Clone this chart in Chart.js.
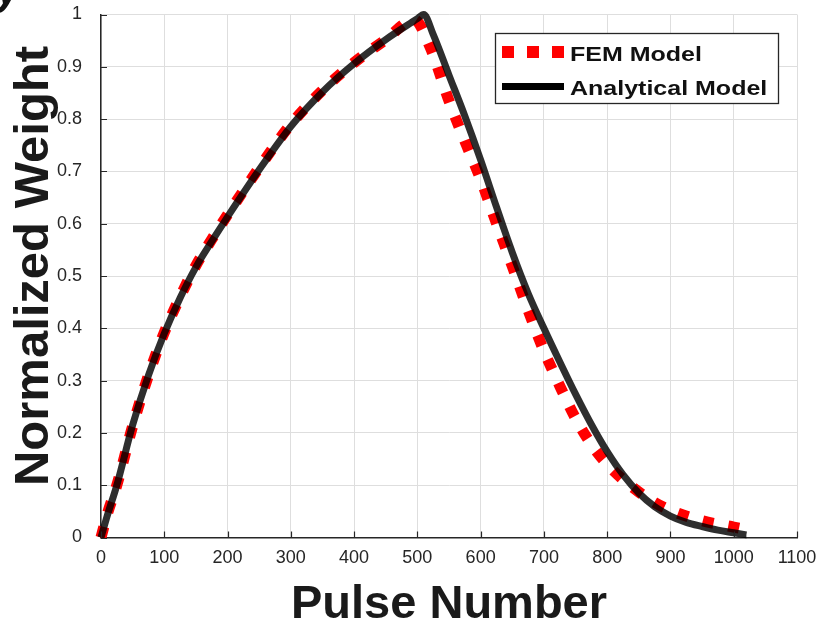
<!DOCTYPE html>
<html><head><meta charset="utf-8">
<script src="https://cdn.jsdelivr.net/npm/chart.js@4/dist/chart.umd.min.js"></script>
<style>
html,body{margin:0;padding:0;background:#fff;overflow:hidden;}
#wrap{position:relative;width:824px;height:630px;}
#frag{position:absolute;left:-4px;top:-36px;line-height:44px;font:bold italic 44px "Liberation Sans",Arial,sans-serif;color:#111;}
</style></head><body>
<div id="wrap"><canvas id="c" width="824" height="630"></canvas><div id="frag">y</div></div>
<script>
// ---- data ----
const seriesNames = ['FEM Model', 'Analytical Model'];
const pulseFEM = [0,10,25,50,75,100,125,150,175,200,250,300,350,400,450,495,520,550,575,600,625,650,675,700,725,750,775,800,825,850,875,900,950,1000,1020];
const weightFEM = [0,0.045,0.1,0.213,0.31,0.392,0.46,0.52,0.57,0.617,0.707,0.79,0.855,0.908,0.952,0.99,0.938,0.835,0.758,0.685,0.601,0.519,0.435,0.357,0.29,0.228,0.178,0.14,0.111,0.087,0.067,0.052,0.032,0.02,0.015];
const pulseAnalytical = [0,10,25,50,75,100,125,150,175,200,250,300,350,400,450,500,510,525,550,575,600,625,650,675,700,725,750,775,800,825,850,875,900,925,950,975,1000,1020];
const weightAnalytical = [0,0.042,0.1,0.215,0.31,0.39,0.458,0.517,0.566,0.613,0.703,0.786,0.852,0.906,0.952,0.992,1.0,0.962,0.884,0.806,0.722,0.632,0.545,0.467,0.4,0.336,0.274,0.216,0.164,0.12,0.085,0.059,0.041,0.029,0.021,0.014,0.009,0.005];
const xTicks = [0,100,200,300,400,500,600,700,800,900,1000,1100];
const yTicks = [0,0.1,0.2,0.3,0.4,0.5,0.6,0.7,0.8,0.9,1];
const yTickLabels = ['0','0.1','0.2','0.3','0.4','0.5','0.6','0.7','0.8','0.9','1'];
const xTitle = 'Pulse Number';
const yTitle = 'Normalized Weight';

const FONT = '"Liberation Sans", Arial, sans-serif';
const AX = '#262626';

const toXY = (xs, ys) => xs.map((x, i) => ({x: x, y: ys[i]}));

const innerTicks = {
  id: 'innerTicks',
  afterDraw(chart) {
    const {ctx, chartArea: a, scales: {x, y}} = chart;
    ctx.save();
    ctx.strokeStyle = AX; ctx.lineWidth = 1.2;
    ctx.beginPath();
    xTicks.forEach(v => { const px = Math.round(x.getPixelForValue(v)) + 0.5; ctx.moveTo(px, a.bottom); ctx.lineTo(px, a.bottom - 6); });
    yTicks.forEach(v => { const py = Math.round(y.getPixelForValue(v)) + 0.5; ctx.moveTo(a.left, py); ctx.lineTo(a.left + 6, py); });
    ctx.stroke();
    ctx.restore();
  }
};

const yTitlePlugin = {
  id: 'yTitlePlugin',
  afterDraw(chart) {
    const ctx = chart.ctx;
    ctx.save();
    ctx.translate(34, 266);
    ctx.rotate(-Math.PI / 2);
    ctx.fillStyle = '#1a1a1a';
    ctx.font = 'bold 49px ' + FONT;
    ctx.textAlign = 'center'; ctx.textBaseline = 'middle';
    ctx.fillText(yTitle, 0, 0);
    ctx.restore();
  }
};

const legendBox = {
  id: 'legendBox',
  afterDraw(chart) {
    const ctx = chart.ctx;
    const ds = chart.data.datasets;
    ctx.save();
    const L = 495, T = 33, R = 778, B = 103;
    ctx.fillStyle = '#fff'; ctx.fillRect(L, T, R - L, B - T);
    ctx.strokeStyle = AX; ctx.lineWidth = 1.3; ctx.strokeRect(L + 0.5, T + 0.5, R - L, B - T);
    ctx.lineCap = 'butt';
    ctx.strokeStyle = ds[0].borderColor; ctx.lineWidth = 12; ctx.setLineDash([12, 13]);
    ctx.beginPath(); ctx.moveTo(502, 52); ctx.lineTo(566, 52); ctx.stroke();
    ctx.setLineDash([]);
    ctx.strokeStyle = '#000'; ctx.lineWidth = 7;
    ctx.beginPath(); ctx.moveTo(502, 86.5); ctx.lineTo(564, 86.5); ctx.stroke();
    ctx.fillStyle = '#111'; ctx.font = 'bold 20px ' + FONT; ctx.textBaseline = 'alphabetic';
    [[ds[0].label, 60.5], [ds[1].label, 95]].forEach(([t, yb]) => {
      ctx.save(); ctx.translate(570, yb); ctx.scale(1.25, 1); ctx.fillText(t, 0, 0); ctx.restore();
    });
    ctx.restore();
  }
};

new Chart(document.getElementById('c'), {
  type: 'line',
  data: {
    datasets: [
      { label: seriesNames[0], data: toXY(pulseFEM, weightFEM), borderColor: '#ff0000', borderWidth: 11,
        borderDash: [11, 15], borderCapStyle: 'butt', pointRadius: 0, cubicInterpolationMode: 'monotone', fill: false, clip: false, order: 1 },
      { label: seriesNames[1], data: toXY(pulseAnalytical, weightAnalytical), borderColor: 'rgba(0,0,0,0.82)', borderWidth: 7,
        pointRadius: 0, cubicInterpolationMode: 'monotone', fill: false, clip: false, order: 0 }
    ]
  },
  options: {
    responsive: false, animation: false, devicePixelRatio: 1,
    layout: { padding: { top: 14.5, right: 27, left: 0, bottom: 0 } },
    plugins: { legend: { display: false }, tooltip: { enabled: false } },
    scales: {
      x: {
        type: 'linear', min: 0, max: 1100,
        afterFit(s) { s.height = 92.5; s.paddingLeft = 0; s.paddingRight = 0; s.paddingTop = 0; s.paddingBottom = 0; },
        afterBuildTicks(s) { s.ticks = xTicks.map(v => ({value: v})); },
        grid: { color: '#dedede', lineWidth: 1, drawTicks: false },
        border: { color: AX, width: 1.5 },
        ticks: { color: AX, font: { family: FONT, size: 18 }, padding: 10, maxRotation: 0, autoSkip: false,
                 callback: (v, i) => String(xTicks[i]) },
        title: { display: true, text: xTitle, color: '#1a1a1a', font: { family: FONT, size: 47, weight: 'bold', lineHeight: 1 },
                 padding: { top: 0, bottom: 1.5 } }
      },
      y: {
        type: 'linear', min: 0, max: 1,
        afterFit(s) { s.width = 101; s.paddingLeft = 0; s.paddingRight = 0; s.paddingTop = 0; s.paddingBottom = 0; },
        afterBuildTicks(s) { s.ticks = yTicks.map(v => ({value: v})); },
        grid: { color: '#dedede', lineWidth: 1, drawTicks: false },
        border: { color: AX, width: 1.5 },
        ticks: { color: AX, font: { family: FONT, size: 18 }, padding: 19, autoSkip: false,
                 callback: (v, i) => yTickLabels[i] },
        title: { display: false }
      }
    }
  },
  plugins: [innerTicks, yTitlePlugin, legendBox]
});
</script>
</body></html>
